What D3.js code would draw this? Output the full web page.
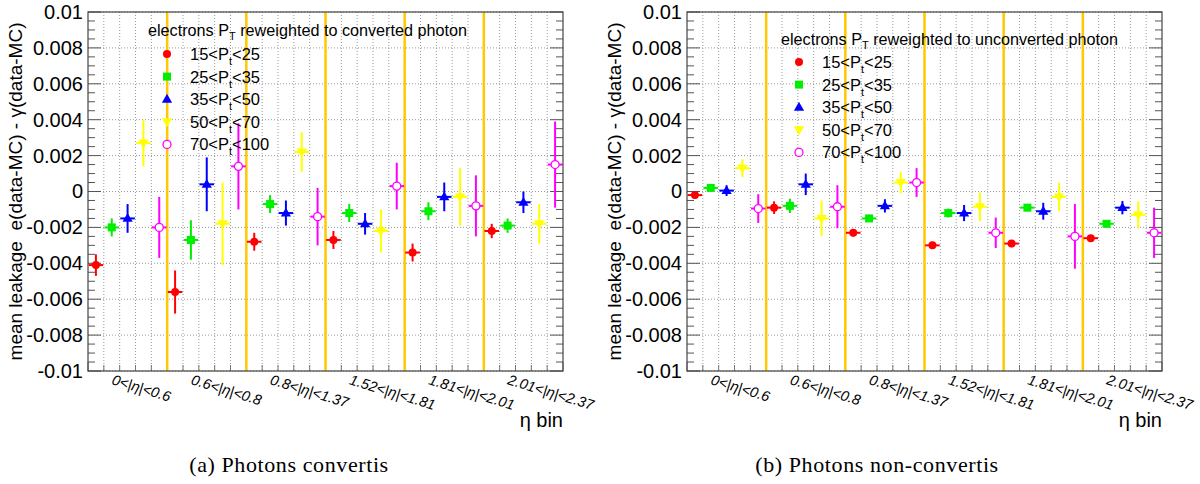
<!DOCTYPE html>
<html><head><meta charset="utf-8">
<script src="https://cdn.jsdelivr.net/npm/d3@7"></script>
<style>
html,body{margin:0;padding:0;background:#fff;}
svg{display:block;font-family:"Liberation Sans",Arial,sans-serif;}
</style></head>
<body><svg id="c" width="1200" height="484"></svg>
<script>
// ---- data ----
const etaBins = ["0<|η|<0.6","0.6<|η|<0.8","0.8<|η|<1.37","1.52<|η|<1.81","1.81<|η|<2.01","2.01<|η|<2.37"];
const ptBins = [["15","25"],["25","35"],["35","50"],["50","70"],["70","100"]];
const yTicks = [-0.01,-0.008,-0.006,-0.004,-0.002,0,0.002,0.004,0.006,0.008,0.01];
const yTickLabels = ["-0.01","-0.008","-0.006","-0.004","-0.002","0","0.002","0.004","0.006","0.008","0.01"];

// converted photon: values per pT bin across eta bins
const convPt15 = [-0.0041,-0.0056,-0.0028,-0.0027,-0.0034,-0.0022];
const convPt25 = [-0.0020,-0.0027,-0.0007,-0.0012,-0.0011,-0.0019];
const convPt35 = [-0.0015,0.0004,-0.0012,-0.0018,-0.0003,-0.0006];
const convPt50 = [0.0027,-0.0018,0.0022,-0.0022,-0.0003,-0.0018];
const convPt70 = [-0.0020,0.0014,-0.0014,0.0003,-0.0008,0.0015];
const convErr15 = [0.0006,0.0012,0.0005,0.0005,0.0005,0.0004];
const convErr25 = [0.0005,0.0011,0.0005,0.0005,0.0005,0.0004];
const convErr35 = [0.0008,0.0015,0.0007,0.0006,0.0008,0.0006];
const convErr50 = [0.0013,0.0023,0.0011,0.0012,0.0016,0.0011];
const convErr70 = [0.0017,0.0024,0.0016,0.0013,0.0017,0.0024];

// unconverted photon
const unconvPt15 = [-0.0002,-0.0009,-0.0023,-0.0030,-0.0029,-0.0026];
const unconvPt25 = [0.0002,-0.0008,-0.0015,-0.0012,-0.0009,-0.0018];
const unconvPt35 = [0.00005,0.0004,-0.0008,-0.0012,-0.0011,-0.0009];
const unconvPt50 = [0.0013,-0.0015,0.0005,-0.00085,-0.0003,-0.0013];
const unconvPt70 = [-0.00095,-0.00085,0.0005,-0.0023,-0.0025,-0.0023];
const unconvErr15 = [0.0002,0.00035,0.0002,0.0002,0.0002,0.00012];
const unconvErr25 = [0.00015,0.0004,0.0002,0.00025,0.0002,0.00015];
const unconvErr35 = [0.0003,0.0006,0.00037,0.00045,0.00047,0.00037];
const unconvErr50 = [0.0005,0.001,0.0006,0.0008,0.0008,0.00075];
const unconvErr70 = [0.0008,0.0012,0.0008,0.00085,0.0018,0.0014];

const colors = ["#ff0000","#00ee00","#0000ff","#ffff00","#ff00ff"];
const shapes = ["circle","square","triangleUp","triangleDown","openCircle"];

const panels = [
  {x0:88, x1:563, legendTitle:"reweighted to converted photon", lx:148, ly:31, mx:167, my0:54,
   caption:"(a) Photons convertis", cx:289,
   vals:[convPt15,convPt25,convPt35,convPt50,convPt70], errs:[convErr15,convErr25,convErr35,convErr50,convErr70]},
  {x0:687, x1:1162, legendTitle:"reweighted to unconverted photon", lx:781, ly:40, mx:799, my0:62,
   caption:"(b) Photons non-convertis", cx:877,
   vals:[unconvPt15,unconvPt25,unconvPt35,unconvPt50,unconvPt70], errs:[unconvErr15,unconvErr25,unconvErr35,unconvErr50,unconvErr70]}
];

const svg = d3.select("#c");
const yTop = 12, yBot = 371;
const nSub = etaBins.length*ptBins.length;

panels.forEach(p=>{
  const g = svg.append("g");
  const x = d3.scaleLinear().domain([0,nSub]).range([p.x0,p.x1]);
  const y = d3.scaleLinear().domain([-0.01,0.01]).range([yBot,yTop]);

  // grid
  g.append("g").selectAll("line").data(d3.range(1,nSub)).join("line")
    .attr("x1",d=>x(d)).attr("x2",d=>x(d)).attr("y1",yTop).attr("y2",yBot)
    .attr("stroke","#999").attr("stroke-width",1).attr("stroke-dasharray","1,2");
  g.append("g").selectAll("line").data(yTicks).join("line")
    .attr("x1",p.x0).attr("x2",p.x1).attr("y1",d=>y(d)).attr("y2",d=>y(d))
    .attr("stroke","#999").attr("stroke-width",1).attr("stroke-dasharray","1,2");

  // left axis (ticks inside)
  const minor = d3.range(-0.01,0.01001,0.0005);
  const axL = d3.axisLeft(y).tickValues(yTicks).tickFormat((d,i)=>yTickLabels[i]).tickSize(0).tickPadding(5);
  const gl = g.append("g").attr("transform",`translate(${p.x0},0)`).call(axL);
  gl.select(".domain").remove();
  gl.selectAll("text").attr("font-size",20).attr("fill","#000").attr("font-family","Liberation Sans, Arial, sans-serif");
  [p.x0,p.x1].forEach((ax,side)=>{
    const dir = side===0?1:-1;
    g.append("g").selectAll("line").data(minor).join("line")
      .attr("x1",ax).attr("x2",(d)=>{const maj=Math.abs(Math.round(d*500)-d*500)<1e-6; return ax+dir*(maj?13:7);})
      .attr("y1",d=>y(d)).attr("y2",d=>y(d)).attr("stroke","#555").attr("stroke-width",1);
  });
  // bottom ticks
  g.append("g").selectAll("line").data(d3.range(0,nSub+1)).join("line")
    .attr("x1",d=>x(d)).attr("x2",d=>x(d)).attr("y1",yBot).attr("y2",d=>yBot-(d%5===0?9:6))
    .attr("stroke","#777").attr("stroke-width",1);

  // yellow separators
  g.append("g").selectAll("line").data(d3.range(1,etaBins.length)).join("line")
    .attr("x1",d=>x(d*5)).attr("x2",d=>x(d*5)).attr("y1",yTop).attr("y2",yBot)
    .attr("stroke","#ffc800").attr("stroke-width",2.5);

  // frame
  g.append("rect").attr("x",p.x0).attr("y",yTop).attr("width",p.x1-p.x0).attr("height",yBot-yTop)
    .attr("fill","none").attr("stroke","#444").attr("stroke-width",1.2);

  // eta labels
  g.append("g").selectAll("text").data(etaBins).join("text")
    .attr("transform",(d,i)=>`translate(${x(i*5)+23},${384}) rotate(17)`)
    .attr("font-size",14.5).attr("font-style","italic").attr("fill","#000").text(d=>d);
  g.append("text").attr("x",p.x1).attr("y",427).attr("text-anchor","end").attr("font-size",20).text("η bin");

  // y title
  g.append("text").attr("transform",`translate(${p.x0-66},${(yTop+yBot)/2}) rotate(-90)`)
    .attr("text-anchor","middle").attr("font-size",19).attr("xml:space","preserve")
    .text("mean leakage  e(data-MC) - γ(data-MC)");

  // markers
  const sym = (shape,cx,cy,col,sel)=>{
    if(shape==="circle") sel.append("circle").attr("cx",cx).attr("cy",cy).attr("r",4).attr("fill",col);
    else if(shape==="openCircle") sel.append("circle").attr("cx",cx).attr("cy",cy).attr("r",4).attr("fill","#fff").attr("stroke",col).attr("stroke-width",1.3);
    else if(shape==="square") sel.append("rect").attr("x",cx-4).attr("y",cy-4).attr("width",8).attr("height",8).attr("fill",col);
    else if(shape==="triangleUp") sel.append("path").attr("d",d3.symbol(d3.symbolTriangle,45)()).attr("transform",`translate(${cx},${cy+0.5})`).attr("fill",col);
    else sel.append("path").attr("d",d3.symbol(d3.symbolTriangle,45)()).attr("transform",`translate(${cx},${cy-0.5}) rotate(180)`).attr("fill",col);
  };
  p.vals.forEach((arr,k)=>{
    const gk = g.append("g");
    arr.forEach((v,i)=>{
      const xi = i*5+k+0.5;
      const cx = x(xi), cy = y(v);
      gk.append("line").attr("x1",x(xi-0.46)).attr("x2",x(xi+0.46)).attr("y1",cy).attr("y2",cy)
        .attr("stroke",colors[k]).attr("stroke-width",2);
      gk.append("line").attr("x1",cx).attr("x2",cx).attr("y1",y(v+p.errs[k][i])).attr("y2",y(v-p.errs[k][i]))
        .attr("stroke",colors[k]).attr("stroke-width",2);
      sym(shapes[k],cx,cy,colors[k],gk);
    });
  });

  // legend
  const lt = g.append("text").attr("x",p.lx).attr("y",p.ly+5).attr("font-size",16.2);
  lt.append("tspan").text("electrons P");
  lt.append("tspan").attr("font-size",11).attr("dy",4).text("T");
  lt.append("tspan").attr("dy",-4).text(" "+p.legendTitle);
  ptBins.forEach((b,k)=>{
    const yy = p.my0 + k*22.6;
    sym(shapes[k],p.mx,yy,colors[k],g);
    const t = g.append("text").attr("x",p.mx+23).attr("y",yy+6).attr("font-size",16.5);
    t.append("tspan").text(b[0]+"<P");
    t.append("tspan").attr("font-size",11).attr("dy",5).text("t");
    t.append("tspan").attr("dy",-5).text("<"+b[1]);
  });

  // caption
  svg.append("text").attr("x",p.cx).attr("y",472).attr("text-anchor","middle")
    .attr("font-family","Liberation Serif, DejaVu Serif, serif").attr("font-size",22).attr("letter-spacing",0.6).text(p.caption);
});
</script></body></html>
